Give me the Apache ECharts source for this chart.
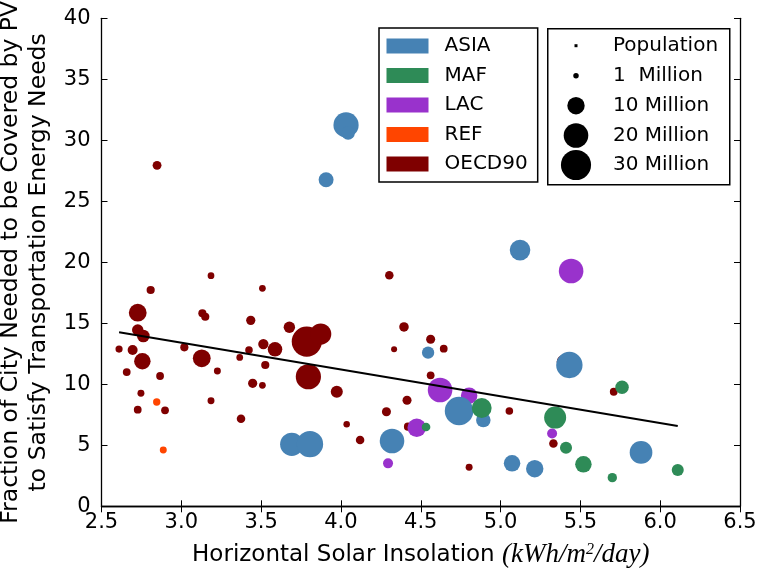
<!DOCTYPE html>
<html>
<head>
<meta charset="utf-8">
<script src="https://cdn.jsdelivr.net/npm/echarts@6/dist/echarts.min.js"></script>
<style>
  html, body { margin: 0; padding: 0; background: #fff; }
  #chart { width: 758px; height: 571px; }
</style>
</head>
<body>
<div id="chart"></div>
<script>
// points are [insolation, fraction %, population in millions]
const asia = [
  [4.032, 31.26, 21], [4.045, 30.6, 6], [3.907, 26.77, 7.4], [5.122, 21.0, 14],
  [4.546, 12.59, 5], [5.431, 11.58, 23], [4.740, 7.81, 27], [4.892, 7.07, 7],
  [4.320, 5.35, 20], [3.692, 5.08, 18], [3.806, 5.10, 23], [5.072, 3.52, 9],
  [5.214, 3.08, 10], [5.880, 4.42, 17]
];
const maf = [
  [4.882, 8.06, 13], [4.533, 6.50, 2.5], [5.342, 7.27, 16], [5.761, 9.75, 6],
  [5.410, 4.80, 4.8], [5.519, 3.44, 9], [5.700, 2.35, 2.9], [6.110, 2.97, 4.8]
];
const lac = [
  [4.621, 9.53, 20], [4.803, 9.07, 9], [4.475, 6.44, 11.5], [4.295, 3.52, 3.3],
  [5.323, 5.97, 3.3], [5.442, 19.29, 20]
];
const ref = [
  [2.846, 8.55, 1.8], [2.887, 4.61, 1.6]
];
const oecd90 = [
  [2.848, 27.95, 2.6], [3.186, 18.9, 1.5], [2.808, 17.73, 2.2], [3.508, 17.87, 1.5],
  [4.303, 18.93, 2.4], [2.727, 15.87, 10.5], [3.132, 15.82, 2.2], [3.150, 15.54, 2.2],
  [3.435, 15.24, 2.8], [2.727, 14.45, 4.3], [2.762, 13.96, 5.3], [3.677, 14.67, 4.3],
  [3.786, 13.50, 30], [3.873, 14.12, 15], [2.610, 12.89, 1.7], [2.695, 12.81, 3.3],
  [3.019, 13.03, 2.2], [3.514, 13.30, 3.5], [3.587, 12.87, 7.0], [3.424, 12.81, 1.9],
  [2.756, 11.89, 9.0], [3.128, 12.13, 10.5], [3.366, 12.20, 1.5], [3.526, 11.58, 2.2],
  [2.658, 11.00, 2.0], [3.226, 11.09, 1.6], [2.867, 10.68, 2.0], [3.796, 10.62, 21],
  [3.447, 10.08, 2.8], [3.508, 9.92, 1.5], [3.974, 9.39, 4.8], [2.747, 9.26, 1.6],
  [3.186, 8.66, 1.6], [2.727, 7.92, 2.0], [2.898, 7.87, 2.0], [3.374, 7.18, 2.4],
  [4.036, 6.72, 1.4], [4.120, 5.43, 2.4], [4.395, 14.70, 3.0], [4.562, 13.69, 2.7],
  [4.644, 12.92, 2.0], [4.333, 12.87, 1.2], [4.562, 10.74, 2.0], [4.414, 8.69, 2.7],
  [4.285, 7.75, 2.7], [5.055, 7.81, 1.9], [4.420, 6.53, 2.2], [4.803, 3.20, 1.6],
  [5.331, 5.14, 2.4], [5.394, 11.85, 6], [5.709, 9.39, 2.0]
];

// fitted trend line, end points
const trendX = [2.61, 6.11];
const trendY = [14.26, 6.58];

const legendNames = ['ASIA', 'MAF', 'LAC', 'REF', 'OECD90'];
const popLabels = ['Population', '1  Million', '10 Million', '20 Million', '30 Million'];
const popValues = [0, 1, 10, 20, 30];

const colors = {
  ASIA: '#4682b4', MAF: '#2e8b57', LAC: '#9932cc', REF: '#ff4500', OECD90: '#7f0000'
};

const FONT = 'DejaVu Sans';
const sizeOf = p => 5.5 * Math.sqrt(p);

function scatter(name, data) {
  return {
    name: name,
    type: 'scatter',
    data: data,
    symbol: 'circle',
    symbolSize: d => sizeOf(d[2]),
    itemStyle: { color: colors[name], opacity: 1 },
    emphasis: { disabled: true },
    z: 2
  };
}

const chart = echarts.init(document.getElementById('chart'));

// right hand box: marker size key
const rowY = [45.7, 75.7, 105.7, 135.5, 165];
const popKey = [{
  type: 'rect',
  left: 547, top: 28,
  shape: { width: 182, height: 156 },
  style: { fill: '#fff', stroke: '#000', lineWidth: 1.5 },
  z: 10
}];
popValues.forEach((p, i) => {
  if (p === 0) {
    popKey.push({
      type: 'rect',
      shape: { x: 574.5, y: rowY[i] - 1.5, width: 3, height: 3 },
      style: { fill: '#000' }, z: 11
    });
  } else {
    popKey.push({
      type: 'circle',
      shape: { cx: 576, cy: rowY[i], r: sizeOf(p) / 2 },
      style: { fill: '#000' }, z: 11
    });
  }
  popKey.push({
    type: 'text',
    x: 613, y: rowY[i],
    style: { text: popLabels[i], font: '20px "DejaVu Sans"', fill: '#000', verticalAlign: 'middle' },
    z: 11
  });
});

const axisCommon = {
  axisLine: { show: true, lineStyle: { color: '#000', width: 1.3 } },
  axisTick: { show: true, inside: true, length: 6, lineStyle: { color: '#000', width: 1 } },
  splitLine: { show: false }
};

chart.setOption({
  animation: false,
  backgroundColor: '#fff',
  grid: { left: 101.5, right: 18, top: 18.3, bottom: 64.7, outerBoundsMode: 'none' },
  xAxis: [
    Object.assign({
      type: 'value', min: 2.5, max: 6.5, interval: 0.5,
      axisLabel: {
        color: '#000', fontSize: 21, fontFamily: FONT, margin: 6,
        formatter: v => v.toFixed(1)
      },
      name: '{a|Horizontal Solar Insolation }{m|(kWh/m}{s|2}{m|/day)}',
      nameLocation: 'middle',
      nameGap: 35,
      nameTextStyle: {
        rich: {
          a: { fontFamily: FONT, fontSize: 23, color: '#000', lineHeight: 28 },
          m: { fontFamily: 'Liberation Serif', fontStyle: 'italic', fontSize: 27, color: '#000', lineHeight: 28 },
          s: { fontFamily: 'Liberation Serif', fontStyle: 'italic', fontSize: 16, color: '#000', lineHeight: 28, verticalAlign: 'top' }
        }
      }
    }, axisCommon),
    Object.assign({
      type: 'value', min: 2.5, max: 6.5, interval: 0.5, position: 'top',
      axisLabel: { show: false }
    }, axisCommon)
  ],
  yAxis: [
    Object.assign({
      type: 'value', min: 0, max: 40, interval: 5,
      axisLabel: { color: '#000', fontSize: 21, fontFamily: FONT, margin: 11 },
      name: 'Fraction of City Needed to be Covered by PV\nto Satisfy Transportation Energy Needs',
      nameLocation: 'middle',
      nameRotate: 90,
      nameGap: 34,
      nameTextStyle: { color: '#000', fontSize: 23.5, fontFamily: FONT, lineHeight: 28, align: 'center' }
    }, axisCommon),
    Object.assign({
      type: 'value', min: 0, max: 40, interval: 5, position: 'right',
      axisLabel: { show: false }
    }, axisCommon)
  ],
  legend: {
    data: legendNames,
    orient: 'vertical',
    left: 379, top: 28,
    width: 158,
    icon: 'rect',
    itemWidth: 42, itemHeight: 15,
    itemGap: 9.5,
    padding: [8, 10, 8, 7.5],
    backgroundColor: '#fff',
    borderColor: '#000',
    borderWidth: 1.5,
    borderRadius: 0,
    selectedMode: false,
    textStyle: { color: '#000', fontSize: 20, fontFamily: FONT, padding: [0, 0, 0, 11] },
    z: 10
  },
  graphic: popKey,
  series: [
    scatter('OECD90', oecd90),
    scatter('REF', ref),
    scatter('LAC', lac),
    scatter('ASIA', asia),
    scatter('MAF', maf),
    {
      type: 'line',
      data: trendX.map((x, i) => [x, trendY[i]]),
      symbol: 'none',
      lineStyle: { color: '#000', width: 2 },
      emphasis: { disabled: true },
      z: 3
    }
  ]
});
</script>
</body>
</html>
